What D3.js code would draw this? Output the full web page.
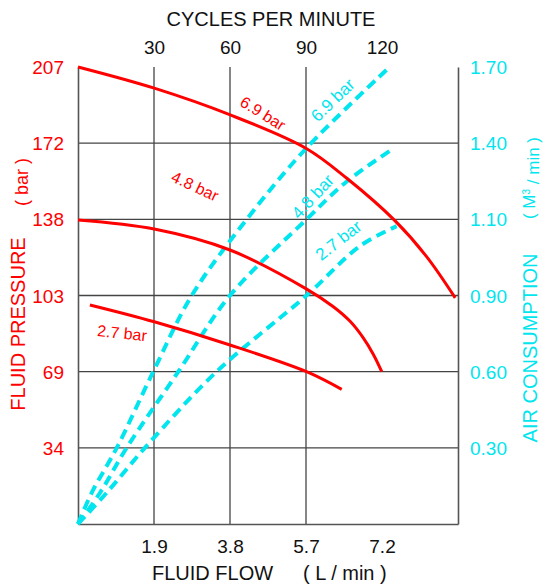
<!DOCTYPE html>
<html>
<head>
<meta charset="utf-8">
<script src="https://d3js.org/d3.v7.min.js"></script>
<style>
  body { margin:0; background:#fff; }
  text { font-family: "Liberation Sans", Arial, sans-serif; }
</style>
</head>
<body>
<svg></svg>
<script>
// tick labels
var pressureTicks = [34.5, 69, 103.5, 138, 172.5, 207];
var pressureLabels = ["34", "69", "103", "138", "172", "207"];
var airTicks = [0, 0.30, 0.60, 0.90, 1.10, 1.40, 1.70];
var airLabels = ["", "0.30", "0.60", "0.90", "1.10", "1.40", "1.70"];
var cycleTicks = [30, 60, 90, 120];
var flowLabels = ["1.9", "3.8", "5.7", "7.2"];

// fluid pressure curves (x = cycles per minute, y = bar)
var press69 = [[0,207],[30.1,197.4],[60.1,185.3],[90.1,170.1],[106.1,156.6],[125.1,137.4],[137.6,121.1],[148.9,102.4]];
var press48 = [[0,137.7],[30.1,133.6],[60.0,124.1],[90.1,106.5],[100.8,98.4],[107.4,91.8],[112.6,84.3],[116.6,76.8],[119.9,69.0]];
var press27 = [[4.7,99.2],[30.1,91.6],[60.0,81.1],[90.2,69.0],[104.1,61.0]];

// air consumption curves (x = cycles per minute, y = m3/min)
var air69 = [[0,0],[5.4,0.123],[15.3,0.30],[29.7,0.60],[44.9,0.90],[66.6,1.10],[90.0,1.379],[122.5,1.695]];
var air48 = [[0,0],[8.7,0.123],[19.2,0.30],[39.6,0.60],[60.0,0.90],[90.2,1.10],[106.1,1.249],[124.5,1.379]];
var air27 = [[0,0],[11.3,0.123],[26.4,0.30],[54.7,0.60],[90.2,0.90],[111.3,1.030],[125.8,1.082]];

var red = "#ff0000";
var cyan = "#00e5ee";

var svg = d3.select("svg")
  .attr("width", 543)
  .attr("height", 586);

var x = d3.scaleLinear().domain([0, 150]).range([78, 458]);
var y = d3.scaleLinear().domain([0, 207]).range([524, 67]);
// right axis is not linear, it follows the pressure grid
var yAir = d3.scaleLinear()
  .domain(airTicks)
  .range([0].concat(pressureTicks).map(function(d){ return y(d); }));

// grid
var grid = svg.append("g");
grid.selectAll("line.h")
  .data(pressureTicks.slice(0, 5))
  .enter().append("line")
  .attr("x1", x(0)).attr("x2", x(150))
  .attr("y1", function(d){ return y(d); })
  .attr("y2", function(d){ return y(d); })
  .attr("stroke", "#444").attr("stroke-width", 1.3);
grid.selectAll("line.v")
  .data(cycleTicks.slice(0, 3))
  .enter().append("line")
  .attr("y1", y(0)).attr("y2", y(207))
  .attr("x1", function(d){ return x(d); })
  .attr("x2", function(d){ return x(d); })
  .attr("stroke", "#444").attr("stroke-width", 1.3);

// axes
var leftAxis = svg.append("g")
  .attr("transform", "translate(" + x(0) + ",0)")
  .call(d3.axisLeft(y).tickValues(pressureTicks)
    .tickFormat(function(d, i){ return pressureLabels[i]; })
    .tickSize(0).tickPadding(14));
leftAxis.selectAll("text").attr("fill", red).style("font-size", "19px")
  .attr("dy", "0.35em");

var rightAxis = svg.append("g")
  .attr("transform", "translate(" + x(150) + ",0)")
  .call(d3.axisRight(yAir).tickValues(airTicks)
    .tickFormat(function(d, i){ return airLabels[i]; })
    .tickSize(0).tickPadding(12));
rightAxis.selectAll("text").attr("fill", cyan).style("font-size", "19px")
  .attr("dy", "0.35em");

var bottomAxis = svg.append("g")
  .attr("transform", "translate(0," + y(0) + ")")
  .call(d3.axisBottom(x).tickValues(cycleTicks)
    .tickFormat(function(d, i){ return flowLabels[i]; })
    .tickSize(0).tickPadding(16));
bottomAxis.selectAll("text").attr("fill", "#111").style("font-size", "19px");

var topAxis = svg.append("g")
  .attr("transform", "translate(0,54)")
  .call(d3.axisTop(x).tickValues(cycleTicks).tickSize(0).tickPadding(0));
topAxis.selectAll("text").attr("fill", "#111").style("font-size", "19px");
topAxis.select(".domain").remove();

[leftAxis, rightAxis, bottomAxis].forEach(function(a){
  a.select(".domain").attr("stroke", "#555").attr("stroke-width", 1.6);
  a.attr("font-family", null);
});

// curves
var pressLine = d3.line()
  .x(function(d){ return x(d[0]); })
  .y(function(d){ return y(d[1]); })
  .curve(d3.curveCatmullRom);
var airLine = d3.line()
  .x(function(d){ return x(d[0]); })
  .y(function(d){ return yAir(d[1]); })
  .curve(d3.curveCatmullRom);

svg.selectAll("path.air")
  .data([air69, air48, air27])
  .enter().append("path")
  .attr("d", airLine)
  .attr("fill", "none")
  .attr("stroke", cyan)
  .attr("stroke-width", 4)
  .attr("stroke-dasharray", "10,6");

svg.selectAll("path.press")
  .data([press69, press48, press27])
  .enter().append("path")
  .attr("d", pressLine)
  .attr("fill", "none")
  .attr("stroke", red)
  .attr("stroke-width", 3);

// curve labels
var redLabels = [
  {t:"6.9 bar", cx:73, cy:186, a:32},
  {t:"4.8 bar", cx:46.2, cy:153, a:25},
  {t:"2.7 bar", cx:17.4, cy:86.5, a:6}
];
svg.selectAll("text.rl")
  .data(redLabels)
  .enter().append("text")
  .attr("transform", function(d){
    return "translate(" + x(d.cx) + "," + y(d.cy) + ") rotate(" + d.a + ")";
  })
  .attr("text-anchor", "middle").attr("dy", "0.35em")
  .attr("fill", red).style("font-size", "16px")
  .text(function(d){ return d.t; });

var cyanLabels = [
  {t:"6.9 bar", cx:100.5, cy:1.57, a:-44},
  {t:"4.8 bar", cx:92.6, cy:1.19, a:-47},
  {t:"2.7 bar", cx:102.8, cy:1.045, a:-38}
];
svg.selectAll("text.cl")
  .data(cyanLabels)
  .enter().append("text")
  .attr("transform", function(d){
    return "translate(" + x(d.cx) + "," + yAir(d.cy) + ") rotate(" + d.a + ")";
  })
  .attr("text-anchor", "middle").attr("dy", "0.35em")
  .attr("fill", cyan).style("font-size", "17px")
  .text(function(d){ return d.t; });

// titles
svg.append("text")
  .attr("x", 271).attr("y", 26)
  .attr("text-anchor", "middle")
  .attr("fill", "#111").style("font-size", "20px")
  .text("CYCLES PER MINUTE");

svg.append("text")
  .attr("x", 152).attr("y", 580)
  .attr("fill", "#111").style("font-size", "20px")
  .text("FLUID FLOW");
svg.append("text")
  .attr("x", 303).attr("y", 580)
  .attr("fill", "#111").style("font-size", "20px")
  .text("( L / min )");

svg.append("text")
  .attr("transform", "translate(25,324) rotate(-90)")
  .attr("text-anchor", "middle")
  .attr("fill", red).style("font-size", "20px")
  .text("FLUID PRESSURE");
svg.append("text")
  .attr("transform", "translate(28,182) rotate(-90)")
  .attr("text-anchor", "middle")
  .attr("fill", red).style("font-size", "18px")
  .text("( bar )");

svg.append("text")
  .attr("transform", "translate(537,348) rotate(-90)")
  .attr("text-anchor", "middle")
  .attr("fill", cyan).style("font-size", "20px")
  .text("AIR CONSUMPTION");
var unit = svg.append("text")
  .attr("transform", "translate(535,178) rotate(-90)")
  .attr("text-anchor", "middle")
  .attr("fill", cyan).style("font-size", "17px");
unit.append("tspan").text("( M");
unit.append("tspan").attr("dy", "-0.5em").style("font-size", "10px").text("3");
unit.append("tspan").attr("dy", "0.5em").text(" / min )");
</script>
</body>
</html>
